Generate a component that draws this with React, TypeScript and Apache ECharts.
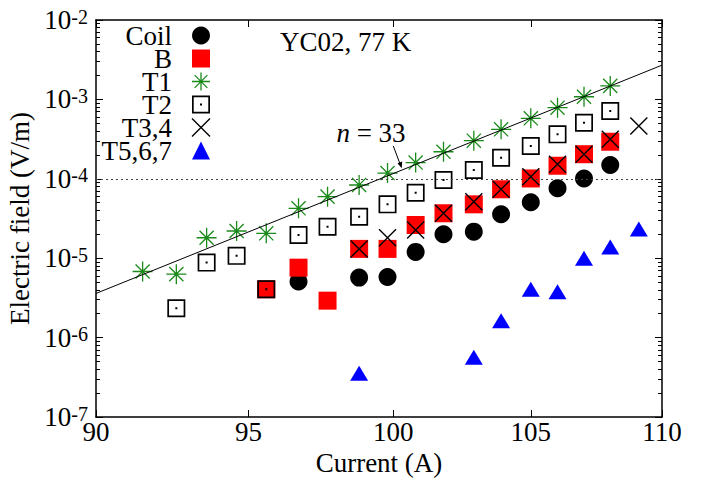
import React, { useEffect, useRef } from "react";
import * as echarts from "echarts";

// ---- data ----
const coilI = [96.7, 98.8, 99.8, 100.8, 101.8, 102.9, 103.9, 105.0, 106.0, 107.0, 108.0];
const coilE = [5.1e-6, 5.7e-6, 5.8e-6, 1.2e-5, 2.0e-5, 2.16e-5, 3.57e-5, 5.06e-5, 7.6e-5, 1.01e-4, 1.49e-4];

const bI = [95.6, 96.7, 97.7, 98.8, 99.8, 100.8, 101.8, 102.9, 103.9, 105.0, 106.0, 107.0, 108.0];
const bE = [4.06e-6, 7.6e-6, 2.92e-6, 1.31e-5, 1.31e-5, 2.62e-5, 3.68e-5, 4.77e-5, 7.38e-5, 1.01e-4, 1.46e-4, 2.04e-4, 2.93e-4];

const t1I = [91.5, 92.6, 93.6, 94.6, 95.6, 96.7, 97.7, 98.8, 99.8, 100.8, 101.8, 102.9, 103.9, 105.0, 106.0, 107.0, 108.0];
const t1E = [6.8e-6, 6.3e-6, 1.81e-5, 2.2e-5, 2.06e-5, 4.25e-5, 5.96e-5, 8.36e-5, 1.18e-4, 1.6e-4, 2.19e-4, 3.02e-4, 4.2e-4, 5.78e-4, 7.86e-4, 1.08e-3, 1.48e-3];

const t2I = [92.6, 93.6, 94.6, 95.6, 96.7, 97.7, 98.8, 99.8, 100.8, 101.8, 102.9, 103.9, 105.0, 106.0, 107.0, 108.0];
const t2E = [2.34e-6, 8.8e-6, 1.07e-5, 4.06e-6, 1.96e-5, 2.49e-5, 3.33e-5, 4.77e-5, 6.68e-5, 9.66e-5, 1.29e-4, 1.84e-4, 2.59e-4, 3.63e-4, 5.09e-4, 7.14e-4];

const t34I = [98.8, 99.8, 100.8, 101.8, 102.9, 103.9, 105.0, 106.0, 107.0, 108.0, 109.1];
const t34E = [1.31e-5, 1.81e-5, 2.26e-5, 3.68e-5, 5.15e-5, 7.38e-5, 1.06e-4, 1.52e-4, 2.04e-4, 3.14e-4, 4.62e-4];

const t567I = [98.8, 102.9, 103.9, 105.0, 106.0, 107.0, 108.0, 109.1];
const t567E = [3.55e-7, 5.65e-7, 1.63e-6, 4.06e-6, 3.79e-6, 9.97e-6, 1.38e-5, 2.33e-5];

// n = 33 power-law line end points
const fitI = [90, 110];
const fitE = [3.6e-6, 2.7e-3];

// 1 µV/cm criterion
const criterionE = 1e-4;

const xTickLabels = [90, 95, 100, 105, 110];
const yDecades = [-7, -6, -5, -4, -3, -2];
const xRange = [90, 110];
const yRange = [1e-7, 1e-2];

const FONT = "'Liberation Serif', 'Times New Roman', serif";
const lg = Math.log10;

const pts = (xs: number[], ys: number[]) => xs.map((x, i) => [lg(x), lg(ys[i])]);

const ASTERISK =
  "path://M0 -10 L0 10 M-10 0 L10 0 M-7.07 -7.07 L7.07 7.07 M-7.07 7.07 L7.07 -7.07 M-1.2 -1.2 L1.2 -1.2 L1.2 1.2 L-1.2 1.2 Z";
const BOXDOT =
  "path://M-9 -9 L9 -9 L9 9 L-9 9 Z M-7.3 -7.3 L-7.3 7.3 L7.3 7.3 L7.3 -7.3 Z M-1 -1 L1 -1 L1 1 L-1 1 Z";
const CROSS = "path://M-8 -8 L8 8 M-8 8 L8 -8";

export default function App() {
  const ref = useRef<HTMLDivElement>(null);

  useEffect(() => {
    if (!ref.current) return;
    const chart = echarts.init(ref.current, undefined, { renderer: "svg" });

    const xTickVals = xTickLabels.map(lg);
    const minorVals: number[] = [];
    for (let n = yDecades[0]; n < yDecades[yDecades.length - 1]; n++) {
      for (let k = 2; k <= 9; k++) minorVals.push(n + lg(k));
    }
    const xmin = lg(xRange[0]);
    const xmax = lg(xRange[1]);
    const ymin = lg(yRange[0]);
    const ymax = lg(yRange[1]);

    const axisLine = { show: true, lineStyle: { color: "#000", width: 1.5 } };
    const tickLine = { color: "#000", width: 1 };

    const xBase = {
      type: "value",
      min: xmin,
      max: xmax,
      splitLine: { show: false },
      axisLine,
    };
    const yBase = {
      type: "value",
      min: ymin,
      max: ymax,
      splitLine: { show: false },
    };

    chart.setOption({
      animation: false,
      backgroundColor: "#fff",
      grid: { left: 96, right: 48, top: 20, bottom: 64, outerBoundsMode: "none" },
      title: {
        text: "YC02, 77 K",
        left: 280,
        top: 28,
        padding: 0,
        textStyle: { fontFamily: FONT, fontSize: 27, fontWeight: "normal", color: "#000" },
      },
      legend: {
        orient: "vertical",
        left: 82,
        top: 22,
        padding: 0,
        itemGap: -4,
        itemWidth: 18,
        itemHeight: 18,
        align: "right",
        selectedMode: false,
        textStyle: {
          fontFamily: FONT,
          fontSize: 27,
          color: "#000",
          width: 90,
          align: "right",
          lineHeight: 22.6,
          padding: [0, 15, 0, 0],
        },
        data: [
          { name: "Coil" },
          { name: "B" },
          { name: "T1", itemStyle: { borderWidth: 1.3, borderColor: "#1b8a1b" } },
          { name: "T2" },
          { name: "T3,4", itemStyle: { borderWidth: 1.4, borderColor: "#000" } },
          { name: "T5,6,7" },
        ],
      },
      xAxis: [
        {
          ...xBase,
          position: "bottom",
          name: "Current (A)",
          nameLocation: "middle",
          nameGap: 31,
          nameTextStyle: { fontFamily: FONT, fontSize: 27, color: "#000" },
          axisTick: { show: true, inside: true, length: 7, customValues: xTickVals, lineStyle: tickLine },
          axisLabel: {
            show: true,
            customValues: xTickVals,
            formatter: (v: number) => String(Math.round(Math.pow(10, v))),
            fontFamily: FONT,
            fontSize: 27,
            color: "#000",
            margin: 1,
          },
        },
        {
          ...xBase,
          position: "top",
          axisTick: { show: true, inside: true, length: 7, customValues: xTickVals, lineStyle: tickLine },
          axisLabel: { show: false },
        },
      ],
      yAxis: [
        {
          ...yBase,
          interval: 1,
          position: "left",
          axisLine,
          name: "Electric field (V/m)",
          nameLocation: "middle",
          nameGap: 55,
          nameTextStyle: { fontFamily: FONT, fontSize: 27, color: "#000" },
          axisTick: { show: true, inside: true, length: 7, lineStyle: tickLine },
          axisLabel: {
            show: true,
            margin: 8,
            formatter: (v: number) => `{b|10}{s|${Math.round(v)}}`,
            rich: {
              b: { fontFamily: FONT, fontSize: 27, color: "#000", lineHeight: 27, verticalAlign: "bottom" },
              s: {
                fontFamily: FONT,
                fontSize: 20,
                color: "#000",
                lineHeight: 20,
                verticalAlign: "top",
                padding: [0, 0, 14, 0],
              },
            },
          },
        },
        {
          ...yBase,
          position: "left",
          axisLine: { show: false },
          axisTick: { show: true, inside: true, length: 4, customValues: minorVals, lineStyle: tickLine },
          axisLabel: { show: false },
        },
        {
          ...yBase,
          interval: 1,
          position: "right",
          axisLine,
          axisTick: { show: true, inside: true, length: 7, lineStyle: tickLine },
          axisLabel: { show: false },
        },
        {
          ...yBase,
          position: "right",
          axisLine: { show: false },
          axisTick: { show: true, inside: true, length: 4, customValues: minorVals, lineStyle: tickLine },
          axisLabel: { show: false },
        },
      ],
      graphic: [
        {
          type: "text",
          x: 371,
          y: 133,
          style: {
            text: "{i|n} = 33",
            fontFamily: FONT,
            fontSize: 27,
            fill: "#000",
            align: "center",
            verticalAlign: "middle",
            rich: { i: { fontFamily: FONT, fontSize: 27, fontStyle: "italic", fill: "#000" } },
          },
        },
        {
          type: "line",
          shape: { x1: 393.3, y1: 146, x2: 400.8, y2: 166 },
          style: { stroke: "#000", lineWidth: 1 },
        },
        {
          type: "polygon",
          shape: { points: [[401.7, 168.3], [402.2, 161.5], [397.5, 163.3]] },
          style: { fill: "#000" },
        },
      ],
      series: [
        {
          name: "Coil",
          type: "scatter",
          symbol: "circle",
          symbolSize: 18,
          itemStyle: { color: "#000", opacity: 1 },
          data: pts(coilI, coilE),
        },
        {
          name: "B",
          type: "scatter",
          symbol: "rect",
          symbolSize: 18,
          itemStyle: { color: "#ff0000", opacity: 1 },
          data: pts(bI, bE),
        },
        {
          name: "T1",
          type: "scatter",
          symbol: ASTERISK,
          symbolSize: 20,
          itemStyle: { color: "#1b8a1b", borderColor: "#1b8a1b", borderWidth: 1.3, opacity: 1 },
          data: pts(t1I, t1E),
        },
        {
          name: "T2",
          type: "scatter",
          symbol: BOXDOT,
          symbolSize: 18,
          itemStyle: { color: "#000", opacity: 1 },
          data: pts(t2I, t2E),
        },
        {
          name: "T3,4",
          type: "scatter",
          symbol: CROSS,
          symbolSize: 17,
          itemStyle: { color: "#000", borderColor: "#000", borderWidth: 1.4, opacity: 1 },
          data: pts(t34I, t34E),
        },
        {
          name: "T5,6,7",
          type: "scatter",
          symbol: "triangle",
          symbolSize: [18, 15],
          itemStyle: { color: "#0000ff", opacity: 1 },
          data: pts(t567I, t567E),
        },
        {
          name: "n = 33",
          type: "line",
          showSymbol: false,
          symbol: "none",
          lineStyle: { color: "#000", width: 1 },
          data: pts(fitI, fitE),
          markLine: {
            silent: true,
            symbol: ["none", "none"],
            label: { show: false },
            lineStyle: { color: "#444", width: 1.2, type: [2, 3] },
            data: [{ yAxis: lg(criterionE) }],
          },
        },
      ],
    });

    return () => chart.dispose();
  }, []);

  return (
    <div
      ref={ref}
      style={{ position: "fixed", left: 0, top: 0, width: 710, height: 481, background: "#fff" }}
    />
  );
}
